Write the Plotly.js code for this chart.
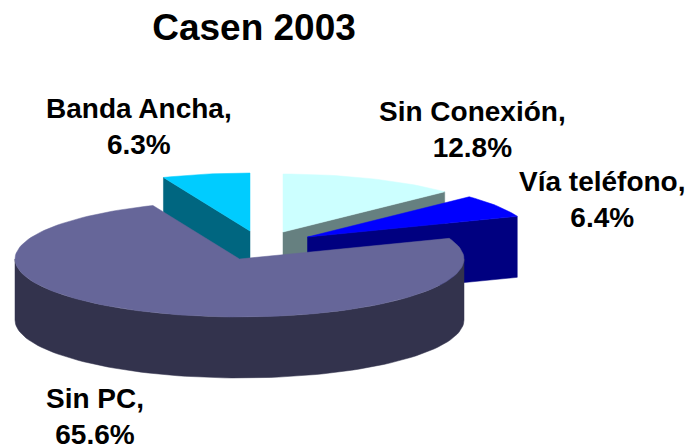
<!DOCTYPE html>
<html>
<head>
<meta charset="utf-8">
<script src="https://cdn.plot.ly/plotly-3.0.1.min.js"></script>
<style>html,body{margin:0;padding:0;background:#fff}#chart{width:692px;height:447px}</style>
</head>
<body>
<div id="chart"></div>
<script>
// Data
const categories = ["Banda Ancha", "Sin Conexión", "Vía teléfono", "Sin PC"];
const printedLabels = ["6.3%", "12.8%", "6.4%", "65.6%"];
// Share of the circle each slice occupies as drawn (the printed Sin PC label is smaller than its slice)
const drawnShare = [6.3, 12.8, 6.4, 74.5];
const chartTitle = "Casen 2003";

// Styles
const topColors = ["#00CCFF", "#CCFFFF", "#0000FF", "#666699"];
const wallColors = ["#006680", "#668080", "#000080", "#33334D"];

// Pie geometry
const RX = 224.5, RY = 58, DEPTH = 61;
const explodedCentres = [[250, 231], [283, 232], [307.5, 237], [239.5, 259]];
const labelPlacement = [[138.5, 126], [472, 129.5], [602, 199.5], [95, 416]];
const firstSliceStart = -drawnShare[0] * 3.6;

function rim(c, deg, dy) {
  const a = deg * Math.PI / 180;
  return [c[0] + RX * Math.sin(a), c[1] - RY * Math.cos(a) + (dy || 0)];
}
function arc(c, a0, a1, dy) {
  const pts = [], n = Math.max(2, Math.ceil(Math.abs(a1 - a0) / 2));
  for (let i = 0; i <= n; i++) pts.push(rim(c, a0 + (a1 - a0) * i / n, dy));
  return pts;
}
function poly(pts, color) {
  const closed = pts.concat([pts[0]]);
  return {
    type: "scatter", mode: "lines", x: closed.map(p => p[0]), y: closed.map(p => p[1]),
    fill: "toself", fillcolor: color, line: {color: color, width: 0.5, shape: "linear"},
    hoverinfo: "skip", showlegend: false
  };
}

const traces = [];
let start = firstSliceStart;
categories.forEach((name, i) => {
  const end = start + drawnShare[i] * 3.6;
  const c = explodedCentres[i];
  const apexLow = [c[0], c[1] + DEPTH];
  if (i === 3) {
    // outer rim visible along the front of the big slice
    const front = arc(c, 90, 270, 0);
    const back = arc(c, 270, 90, DEPTH);
    traces.push(poly(front.concat(back), wallColors[i]));
  } else {
    // cut face seen from the front
    const edgeAngle = i === 0 ? start : end;
    const p = rim(c, edgeAngle, 0), q = rim(c, edgeAngle, DEPTH);
    traces.push(poly([c, p, q, apexLow], wallColors[i]));
  }
  traces.push(poly([c].concat(arc(c, start, end, 0)), topColors[i]));
  start = end;
});

const annotations = categories.map((name, i) => ({
  x: labelPlacement[i][0], y: labelPlacement[i][1], xref: "x", yref: "y",
  text: name + ",<br>" + printedLabels[i], showarrow: false, align: "center",
  xanchor: "center", yanchor: "middle",
  font: {family: "Liberation Sans, Arial, sans-serif", size: 28, color: "#000", weight: 700}
}));

const layout = {
  width: 692, height: 447, margin: {l: 0, r: 0, t: 0, b: 0},
  paper_bgcolor: "#fff", plot_bgcolor: "#fff", showlegend: false,
  title: {text: "<b>" + chartTitle + "</b>", x: 254 / 692, xanchor: "center", y: 1 - 27 / 447, yanchor: "middle",
          font: {family: "Liberation Sans, Arial, sans-serif", size: 37, color: "#000"}},
  xaxis: {range: [0, 692], visible: false, fixedrange: true},
  yaxis: {range: [447, 0], visible: false, fixedrange: true},
  annotations: annotations
};
Plotly.newPlot("chart", traces, layout, {displayModeBar: false, staticPlot: true});
</script>
</body>
</html>
